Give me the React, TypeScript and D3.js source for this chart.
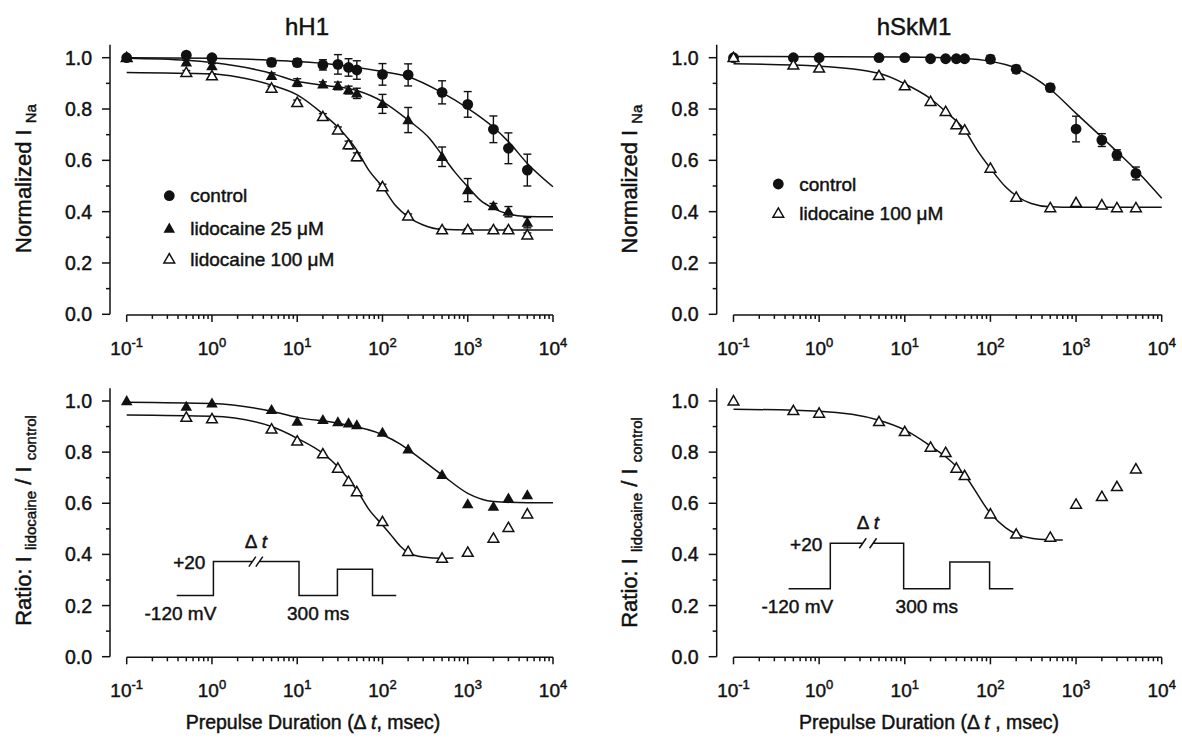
import React from 'react';
import * as d3 from 'd3';

const FONT = "'Liberation Sans', Arial, Helvetica, sans-serif";

// ---------------- data ----------------
const durations = [0.1, 0.5, 1, 5, 10, 20, 30, 40, 50, 100, 200, 500, 1000, 2000, 3000, 5000];
const durationsNo01 = [0.5, 1, 5, 10, 20, 30, 40, 50, 100, 200, 500, 1000, 2000, 3000, 5000];

// hH1 normalized INa
const hH1Control = [1.0, 1.01, 1.0, 0.982, 0.981, 0.972, 0.974, 0.962, 0.952, 0.935, 0.933, 0.865, 0.818, 0.721, 0.647, 0.562];
const hH1ControlErr = [0, 0.008, 0.008, 0.015, 0.015, 0.02, 0.038, 0.034, 0.036, 0.042, 0.043, 0.045, 0.05, 0.052, 0.06, 0.062];
const hH1Lido25 = [1.0, 0.982, 0.967, 0.929, 0.903, 0.896, 0.89, 0.874, 0.861, 0.82, 0.757, 0.614, 0.484, 0.422, 0.4, 0.357];
const hH1Lido25Err = [0, 0.008, 0.01, 0.012, 0.015, 0.01, 0.015, 0.015, 0.02, 0.037, 0.049, 0.038, 0.045, 0.01, 0.02, 0.02];
const hH1Lido100 = [1.0, 0.942, 0.929, 0.881, 0.825, 0.77, 0.718, 0.66, 0.614, 0.497, 0.383, 0.329, 0.329, 0.329, 0.329, 0.309];
const hH1Lido100Err = [0, 0.008, 0.008, 0.008, 0.01, 0.012, 0.012, 0.015, 0.015, 0.01, 0.008, 0.005, 0.005, 0.005, 0.005, 0.008];

// fitted curves: [duration, value]
const hH1ControlFit = [[0.1, 1.0], [1, 0.998], [5, 0.99], [10, 0.985], [30, 0.972], [100, 0.946], [200, 0.926], [500, 0.864], [1000, 0.803], [2000, 0.729], [3000, 0.673], [5000, 0.588], [10000, 0.497]];
const hH1Lido25Fit = [[0.1, 0.998], [0.5, 0.99], [1, 0.981], [5, 0.939], [10, 0.908], [20, 0.893], [50, 0.872], [100, 0.829], [200, 0.757], [355, 0.686], [500, 0.621], [700, 0.556], [1000, 0.497], [1400, 0.445], [2000, 0.413], [3000, 0.391], [5000, 0.381], [10000, 0.38]];
const hH1Lido100Fit = [[0.1, 0.942], [1, 0.936], [2, 0.925], [5, 0.893], [10, 0.855], [20, 0.781], [30, 0.729], [50, 0.64], [69, 0.562], [100, 0.497], [143, 0.423], [200, 0.38], [300, 0.348], [500, 0.331], [1000, 0.329], [10000, 0.329]];

// hSkM1 normalized INa
const hSkControl = [1.0, 1.0, 1.0, 1.0, 1.0, 0.996, 0.996, 0.996, 0.996, 0.994, 0.955, 0.883, 0.722, 0.679, 0.621, 0.549];
const hSkControlErr = [0, 0.005, 0.005, 0.008, 0.008, 0.008, 0.008, 0.008, 0.01, 0.015, 0.015, 0.015, 0.05, 0.025, 0.02, 0.025];
const hSkLido100 = [1.0, 0.971, 0.959, 0.93, 0.89, 0.829, 0.79, 0.738, 0.718, 0.569, 0.456, 0.415, 0.435, 0.426, 0.415, 0.415];
const hSkControlFit = [[0.1, 1.005], [10, 1.003], [50, 0.997], [100, 0.986], [200, 0.959], [500, 0.877], [1000, 0.783], [2000, 0.69], [3000, 0.634], [5000, 0.562], [10000, 0.452]];
const hSkLido100Fit = [[0.1, 0.976], [1, 0.967], [5, 0.939], [10, 0.898], [20, 0.84], [30, 0.79], [50, 0.718], [70, 0.64], [100, 0.569], [150, 0.497], [200, 0.462], [300, 0.432], [500, 0.419], [1000, 0.417], [10000, 0.417]];

// ratios I_lidocaine / I_control
const hH1Ratio25 = [1.0, 0.978, 0.991, 0.965, 0.919, 0.926, 0.917, 0.913, 0.906, 0.876, 0.811, 0.711, 0.597, 0.587, 0.619, 0.632];
const hH1Ratio100 = [0.936, 0.93, 0.89, 0.843, 0.793, 0.737, 0.685, 0.645, 0.528, 0.411, 0.385, 0.408, 0.463, 0.505, 0.558];
const hH1Ratio25Fit = [[0.1, 0.995], [1, 0.99], [5, 0.96], [10, 0.936], [30, 0.913], [100, 0.868], [160, 0.832], [200, 0.81], [500, 0.711], [1000, 0.639], [2000, 0.607], [5000, 0.602], [10000, 0.602]];
const hH1Ratio100Fit = [[0.1, 0.945], [1, 0.94], [5, 0.9], [10, 0.854], [20, 0.795], [30, 0.743], [50, 0.652], [70, 0.574], [100, 0.515], [123, 0.48], [162, 0.432], [200, 0.407], [300, 0.39], [500, 0.385], [680, 0.386]];
const hSkRatio100 = [1.0, 0.962, 0.952, 0.919, 0.88, 0.819, 0.798, 0.737, 0.708, 0.558, 0.479, 0.467, 0.596, 0.626, 0.665, 0.734];
const hSkRatio100Fit = [[0.1, 0.968], [1, 0.96], [5, 0.925], [10, 0.887], [20, 0.824], [30, 0.782], [50, 0.71], [100, 0.561], [150, 0.505], [200, 0.48], [300, 0.463], [500, 0.457], [700, 0.456]];

// axis ticks
const xMajorTicks = [0.1, 1, 10, 100, 1000, 10000];
const xMajorExps = ['-1', '0', '1', '2', '3', '4'];
const yMajorTicks = [0, 0.2, 0.4, 0.6, 0.8, 1.0];
const yMajorLabels = ['0.0', '0.2', '0.4', '0.6', '0.8', '1.0'];
const yMinorTicks = [0.1, 0.3, 0.5, 0.7, 0.9];

// voltage protocol insets: [start, step up, break start, break end, step down, test on, test off, end]
const protoLeftT = [0.386, 1.04, 2.67, 4.0, 10.5, 29.6, 76.4, 145];
const protoLeftV = [0.239, 0.372, 0.342]; // holding, prepulse, test levels (in axis units)
const protoRightT = [0.44, 1.35, 2.9, 4.75, 9.7, 33.6, 97.8, 185];
const protoRightV = [0.266, 0.4435, 0.37];

// ---------------- layout ----------------
const W = 1182;
const H = 738;
const LEFT = { xr: [126.7, 553], axisX: 110 };
const RIGHT = { xr: [733.5, 1161.7], axisX: 716.7 };
const TOP = [314.3, 57.7];
const BOT = [656.7, 401];

const mkX = (r: number[]) => d3.scaleLog().domain([0.1, 10000]).range(r);
const mkY = (r: number[]) => d3.scaleLinear().domain([0, 1]).range(r);

const BLACK = '#111';
// scanned text looks heavier than a plain regular face
const TXT = { fontFamily: FONT, fill: BLACK, stroke: BLACK, strokeWidth: 0.45 } as any;

function Axes({ x, y, axisX }: any) {
  const y0 = y(0) + 0.6;
  const allX = x.ticks();
  return (
    <g>
      <g stroke={BLACK} strokeWidth={1.5} fill="none">
        <line x1={axisX} x2={axisX} y1={y(0)} y2={y(1.05)} />
        {yMajorTicks.map((v) => (
          <line key={'ym' + v} x1={axisX - 8} x2={axisX} y1={y(v)} y2={y(v)} />
        ))}
        {yMinorTicks.map((v) => (
          <line key={'yn' + v} x1={axisX - 4} x2={axisX} y1={y(v)} y2={y(v)} />
        ))}
        <line x1={x(0.1)} x2={x(10000)} y1={y0} y2={y0} />
        {allX.map((v: number, i: number) => {
          const lg = Math.log10(v);
          const major = Math.abs(lg - Math.round(lg)) < 1e-6;
          return <line key={'xt' + i} x1={x(v)} x2={x(v)} y1={y0} y2={y0 + (major ? 7 : 4)} />;
        })}
      </g>
      <g {...TXT}>
        {yMajorTicks.map((v, i) => (
          <text key={'yl' + i} x={axisX - 18} y={y(v)} dy="0.36em" fontSize={19.5} textAnchor="end">
            {yMajorLabels[i]}
          </text>
        ))}
        {xMajorTicks.map((v, i) => (
          <text key={'xl' + i} x={x(v)} y={y0 + 40} fontSize={19} textAnchor="middle">
            10
            <tspan dy={-8} fontSize={13}>{xMajorExps[i]}</tspan>
          </text>
        ))}
      </g>
    </g>
  );
}

function FitLine({ x, y, pts }: any) {
  const line = d3
    .line<number[]>()
    .x((d) => x(d[0]))
    .y((d) => y(d[1]))
    .curve(d3.curveMonotoneX);
  return <path d={line(pts) || ''} fill="none" stroke={BLACK} strokeWidth={1.5} />;
}

function ErrorBars({ x, y, xs, vals, errs }: any) {
  return (
    <g stroke={BLACK} strokeWidth={1.4}>
      {vals.map((v: number, i: number) => {
        const e = errs[i];
        if (!e) return null;
        const cx = x(xs[i]);
        return (
          <g key={i}>
            <line x1={cx} x2={cx} y1={y(v - e)} y2={y(v + e)} />
            <line x1={cx - 4} x2={cx + 4} y1={y(v - e)} y2={y(v - e)} />
            <line x1={cx - 4} x2={cx + 4} y1={y(v + e)} y2={y(v + e)} />
          </g>
        );
      })}
    </g>
  );
}

const triPath = d3.symbol(d3.symbolTriangle, 58)() || '';
const openTriPath = d3.symbol(d3.symbolTriangle, 50)() || '';

function Marker({ kind, cx, cy }: any) {
  if (kind === 'circle') return <circle cx={cx} cy={cy} r={5.4} fill={BLACK} />;
  if (kind === 'tri') return <path d={triPath} transform={`translate(${cx},${cy + 0.8})`} fill={BLACK} />;
  return (
    <path d={openTriPath} transform={`translate(${cx},${cy + 0.8})`} fill="#fff" stroke={BLACK} strokeWidth={1.5} />
  );
}

function Points({ x, y, xs, vals, kind }: any) {
  return (
    <g>
      {vals.map((v: number, i: number) => (
        <Marker key={i} kind={kind} cx={x(xs[i])} cy={y(v)} />
      ))}
    </g>
  );
}

function Protocol({ x, y, t, v }: any) {
  const X = t.map((d: number) => x(d));
  const yh = y(v[0]);
  const yp = y(v[1]);
  const yt = y(v[2]);
  const b1 = X[2] + 4;
  const b2 = X[3] - 4;
  const slash = (bx: number) => `M${bx - 3.5},${yp + 5}L${bx + 3.5},${yp - 5}`;
  const d =
    `M${X[0]},${yh}H${X[1]}V${yp}H${b1}` +
    `M${b2},${yp}H${X[4]}V${yh}H${X[5]}V${yt}H${X[6]}V${yh}H${X[7]}`;
  return (
    <g>
      <path d={d + slash(b1) + slash(b2)} fill="none" stroke={BLACK} strokeWidth={1.5} />
      <g {...TXT} fontSize={19}>
        <text x={X[1] - 8} y={yp + 7.5} textAnchor="end">+20</text>
        <text x={(b1 + b2) / 2} y={yp - 14} textAnchor="middle">
          Δ <tspan fontStyle="italic">t</tspan>
        </text>
        <text x={X[1] - 33} y={yh + 24.5} textAnchor="middle">-120 mV</text>
        <text x={(X[4] + X[5]) / 2} y={yh + 24.5} textAnchor="middle">300 ms</text>
      </g>
    </g>
  );
}

function LegendItem({ kind, cx, cy, label }: any) {
  return (
    <g>
      <Marker kind={kind} cx={cx} cy={cy} />
      <text x={cx + 21} y={cy + 6.5} {...TXT} fontSize={19}>
        {label}
      </text>
    </g>
  );
}

function YTitle({ x, cy, main, sub1, mid, sub2 }: any) {
  return (
    <text transform={`translate(${x},${cy}) rotate(-90)`} textAnchor="middle" {...TXT} fontSize={22}>
      {main}
      <tspan dy={5} fontSize={15}>{sub1}</tspan>
      {mid !== undefined ? <tspan dy={-5}>{mid}</tspan> : null}
      {sub2 !== undefined ? <tspan dy={5} fontSize={15}>{sub2}</tspan> : null}
    </text>
  );
}

function XTitle({ cx, y, comma }: any) {
  return (
    <text x={cx} y={y} textAnchor="middle" {...TXT} fontSize={19.5}>
      Prepulse Duration (Δ <tspan fontStyle="italic">t</tspan>
      {comma}msec)
    </text>
  );
}

export default function App() {
  const xL = mkX(LEFT.xr);
  const xR = mkX(RIGHT.xr);
  const yT = mkY(TOP);
  const yB = mkY(BOT);

  return (
    <svg
      width={W}
      height={H}
      viewBox={`0 0 ${W} ${H}`}
      style={{ position: 'absolute', left: 0, top: 0, background: '#fff' }}
    >
      <rect width={W} height={H} fill="#fff" />
      {/* titles */}
      <text x={307} y={35} textAnchor="middle" {...TXT} fontSize={24}>hH1</text>
      <text x={914} y={35} textAnchor="middle" {...TXT} fontSize={24}>hSkM1</text>

      {/* ---------- top-left: hH1 ---------- */}
      <Axes x={xL} y={yT} axisX={LEFT.axisX} />
      <FitLine x={xL} y={yT} pts={hH1ControlFit} />
      <FitLine x={xL} y={yT} pts={hH1Lido25Fit} />
      <FitLine x={xL} y={yT} pts={hH1Lido100Fit} />
      <ErrorBars x={xL} y={yT} xs={durations} vals={hH1Lido100} errs={hH1Lido100Err} />
      <ErrorBars x={xL} y={yT} xs={durations} vals={hH1Lido25} errs={hH1Lido25Err} />
      <ErrorBars x={xL} y={yT} xs={durations} vals={hH1Control} errs={hH1ControlErr} />
      <Points x={xL} y={yT} xs={durations} vals={hH1Lido100} kind="open" />
      <Points x={xL} y={yT} xs={durations} vals={hH1Lido25} kind="tri" />
      <Points x={xL} y={yT} xs={durations} vals={hH1Control} kind="circle" />
      <LegendItem kind="circle" cx={169.3} cy={195.7} label="control" />
      <LegendItem kind="tri" cx={169.3} cy={228.5} label="lidocaine 25 μM" />
      <LegendItem kind="open" cx={169.3} cy={259} label="lidocaine 100 μM" />
      <YTitle x={31} cy={178.5} main="Normalized I " sub1="Na" />

      {/* ---------- top-right: hSkM1 ---------- */}
      <Axes x={xR} y={yT} axisX={RIGHT.axisX} />
      <FitLine x={xR} y={yT} pts={hSkControlFit} />
      <FitLine x={xR} y={yT} pts={hSkLido100Fit} />
      <ErrorBars x={xR} y={yT} xs={durations} vals={hSkControl} errs={hSkControlErr} />
      <Points x={xR} y={yT} xs={durations} vals={hSkControl} kind="circle" />
      <Points x={xR} y={yT} xs={durations} vals={hSkLido100} kind="open" />
      <LegendItem kind="circle" cx={778.3} cy={184} label="control" />
      <LegendItem kind="open" cx={778.3} cy={213.3} label="lidocaine 100 μM" />
      <YTitle x={637} cy={179} main="Normalized I " sub1="Na" />

      {/* ---------- bottom-left: hH1 ratio ---------- */}
      <Axes x={xL} y={yB} axisX={LEFT.axisX} />
      <FitLine x={xL} y={yB} pts={hH1Ratio25Fit} />
      <FitLine x={xL} y={yB} pts={hH1Ratio100Fit} />
      <Points x={xL} y={yB} xs={durationsNo01} vals={hH1Ratio100} kind="open" />
      <Points x={xL} y={yB} xs={durations} vals={hH1Ratio25} kind="tri" />
      <Protocol x={xL} y={yB} t={protoLeftT} v={protoLeftV} />
      <YTitle x={31} cy={520.5} main="Ratio: I " sub1="lidocaine" mid=" / I " sub2="control" />
      <XTitle cx={313} y={729} comma=", " />

      {/* ---------- bottom-right: hSkM1 ratio ---------- */}
      <Axes x={xR} y={yB} axisX={RIGHT.axisX} />
      <FitLine x={xR} y={yB} pts={hSkRatio100Fit} />
      <Points x={xR} y={yB} xs={durations} vals={hSkRatio100} kind="open" />
      <Protocol x={xR} y={yB} t={protoRightT} v={protoRightV} />
      <YTitle x={637} cy={522.5} main="Ratio: I " sub1="lidocaine" mid=" / I " sub2="control" />
      <XTitle cx={929} y={729} comma=" , " />
    </svg>
  );
}
